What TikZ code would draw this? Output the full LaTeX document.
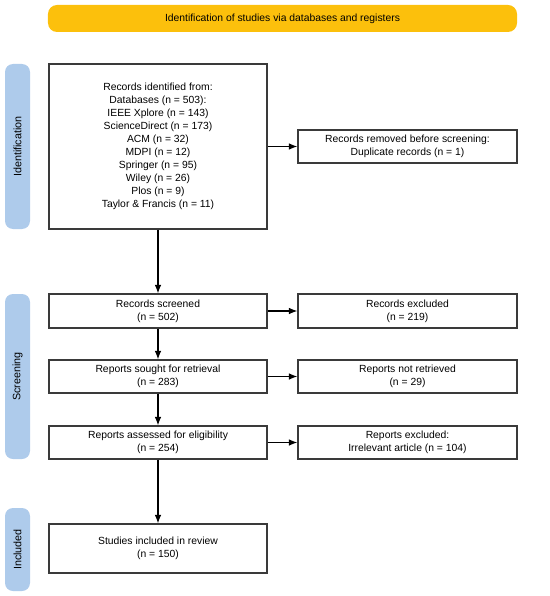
\documentclass[tikz,border=0pt]{standalone}
\usepackage{fontspec}
\setmainfont{Liberation Sans}
\usetikzlibrary{arrows.meta}
\definecolor{bannerc}{HTML}{FCC00C}
\definecolor{sidec}{HTML}{AECBEB}
\definecolor{edgec}{HTML}{3A3A3A}
\tikzset{
  box/.style={draw=edgec, line width=1.1bp, align=center, font=\fontsize{10.4}{13}\selectfont, inner sep=0pt},
  side/.style={fill=sidec, rounded corners=8bp, draw=none},
  sidetext/.style={rotate=90, font=\fontsize{10.8}{12}\selectfont},
  arr/.style={-{Latex[length=8.5bp,width=6.5bp]}, line width=1.1bp, draw=black}
}
\begin{document}
\begin{tikzpicture}[x=1bp,y=-1bp]
\useasboundingbox (0,0) rectangle (550,596);
% banner
\node[fill=bannerc, rounded corners=9bp, minimum width=469bp, minimum height=27bp, inner sep=0pt, font=\fontsize{10.4}{12}\selectfont] (banner) at (282.5,18.5) {Identification of studies via databases and registers};
% side labels
\fill[side] (5,64) rectangle (30,229);
\node[sidetext] (lid) at (17.5,146.5) {Identification};
\fill[side] (5,294) rectangle (30,459);
\node[sidetext] (lsc) at (17.5,376.5) {Screening};
\fill[side] (5,508) rectangle (30,591);
\node[sidetext] (lin) at (17.5,549.5) {Included};
% boxes
\node[box, minimum width=218bp, minimum height=165bp] (ident) at (158,146.5) {Records identified from:\\Databases (n = 503):\\IEEE Xplore (n = 143)\\ScienceDirect (n = 173)\\ACM (n = 32)\\MDPI (n = 12)\\Springer (n = 95)\\Wiley (n = 26)\\Plos (n = 9)\\Taylor \& Francis (n = 11)};
\node[box, minimum width=219bp, minimum height=33bp] (removed) at (407.5,146.5) {Records removed before screening:\\Duplicate records (n = 1)};
\node[box, minimum width=218bp, minimum height=34bp] (screened) at (158,311) {Records screened\\(n = 502)};
\node[box, minimum width=219bp, minimum height=34bp] (excluded) at (407.5,311) {Records excluded\\(n = 219)};
\node[box, minimum width=218bp, minimum height=33bp] (sought) at (158,376.5) {Reports sought for retrieval\\(n = 283)};
\node[box, minimum width=219bp, minimum height=33bp] (notret) at (407.5,376.5) {Reports not retrieved\\(n = 29)};
\node[box, minimum width=218bp, minimum height=33bp] (assessed) at (158,442.5) {Reports assessed for eligibility\\(n = 254)};
\node[box, minimum width=219bp, minimum height=33bp] (repexcl) at (407.5,442.5) {Reports excluded:\\Irrelevant article (n = 104)};
\node[box, minimum width=218bp, minimum height=49bp] (included) at (158,548.5) {Studies included in review\\(n = 150)};
% arrows
\draw[arr] (ident.east |- removed.west) -- (removed.west);
\draw[arr] (ident) -- (screened);
\draw[arr] (screened) -- (excluded);
\draw[arr] (screened) -- (sought);
\draw[arr] (sought) -- (notret);
\draw[arr] (sought) -- (assessed);
\draw[arr] (assessed) -- (repexcl);
\draw[arr] (assessed) -- (included);
\end{tikzpicture}
\end{document}
